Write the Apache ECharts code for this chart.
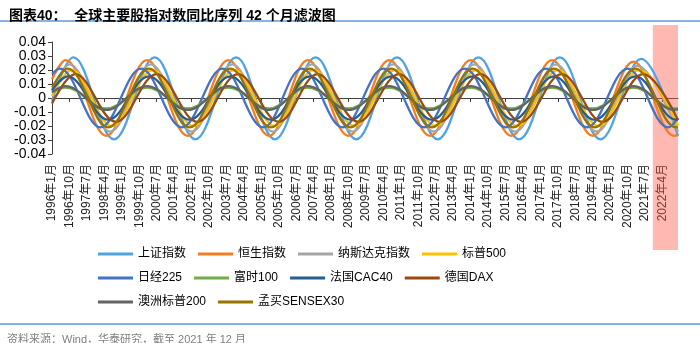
<!DOCTYPE html>
<html><head><meta charset="utf-8">
<script src="https://cdn.jsdelivr.net/npm/echarts@6/dist/echarts.min.js"></script>
<style>html,body{margin:0;padding:0;background:#fff}#c{width:700px;height:343px}</style>
</head><body><div id="c"></div>
<script>
// ---- data ----
const START_YEAR = 1996, START_MONTH = 1, MONTH_COUNT = 324;
const categories = [];
for (let i = 0; i < MONTH_COUNT; i++) {
  const m = START_MONTH - 1 + i;
  categories.push((START_YEAR + Math.floor(m / 12)) + '年' + (m % 12 + 1) + '月');
}
const yTicks = [-0.04, -0.03, -0.02, -0.01, 0, 0.01, 0.02, 0.03, 0.04];
const shadeStart = '2021年11月';
const shadeEnd = '2022年12月';
const seriesNames = ['上证指数','恒生指数','纳斯达克指数','标普500','日经225','富时100','法国CAC40','德国DAX','澳洲标普200','孟买SENSEX30'];
// key points [month index, value] (peaks, troughs, ends)
const shanghai = [[0,-0.002],[11,0.029],[32,-0.0295],[53,0.029],[74,-0.0295],[95,0.029],[115,-0.0295],[136,0.029],[157,-0.0295],[178,0.029],[199,-0.0295],[220,0.029],[241,-0.0295],[262,0.029],[283,-0.0295],[304,0.028],[323,-0.027]];
const hangseng = [[0,0.0134],[7,0.027],[28,-0.027],[49,0.027],[70,-0.027],[91,0.027],[112,-0.027],[132,0.027],[153,-0.027],[174,0.027],[195,-0.027],[216,0.027],[237,-0.027],[258,0.027],[279,-0.027],[300,0.026],[321,-0.027],[323,-0.0265]];
const nasdaq = [[0,0.0052],[9,0.024],[30,-0.024],[51,0.024],[72,-0.024],[93,0.024],[114,-0.024],[134,0.024],[155,-0.024],[176,0.024],[197,-0.024],[218,0.024],[239,-0.024],[260,0.024],[281,-0.024],[302,0.023],[323,-0.024]];
const sp500 = [[0,0.0014],[10,0.02],[31,-0.02],[52,0.02],[73,-0.02],[94,0.02],[115,-0.02],[135,0.02],[156,-0.02],[177,0.02],[198,-0.02],[219,0.02],[240,-0.02],[261,0.02],[282,-0.02],[303,0.02],[323,-0.0198]];
const nikkei = [[0,0.0173],[4,0.021],[25,-0.021],[46,0.021],[67,-0.021],[88,0.021],[109,-0.021],[129,0.021],[150,-0.021],[171,0.021],[192,-0.021],[213,0.021],[234,-0.021],[255,0.021],[276,-0.021],[297,0.021],[318,-0.021],[323,-0.0142]];
const ftse = [[0,0.0037],[7,0.0075],[28,-0.0075],[49,0.0075],[70,-0.0075],[91,0.0075],[112,-0.0075],[132,0.0075],[153,-0.0075],[174,0.0075],[195,-0.0075],[216,0.0075],[237,-0.0075],[258,0.0075],[279,-0.0075],[300,0.0075],[321,-0.0075],[323,-0.0072]];
const cac40 = [[0,0.0056],[8,0.0155],[29,-0.0155],[50,0.0155],[71,-0.0155],[92,0.0155],[113,-0.0155],[133,0.0155],[154,-0.0155],[175,0.0155],[196,-0.0155],[217,0.0155],[238,-0.0155],[259,0.0155],[280,-0.0155],[301,0.0155],[322,-0.0155],[323,-0.0154]];
const dax = [[0,-0.0039],[12,0.017],[33,-0.017],[54,0.017],[75,-0.017],[96,0.017],[117,-0.017],[137,0.017],[158,-0.017],[179,0.017],[200,-0.017],[221,0.017],[242,-0.017],[263,0.017],[284,-0.017],[305,0.017],[323,-0.0158]];
const asx200 = [[0,0.0042],[7,0.0085],[28,-0.0085],[49,0.0085],[70,-0.0085],[91,0.0085],[112,-0.0085],[132,0.0085],[153,-0.0085],[174,0.0085],[195,-0.0085],[216,0.0085],[237,-0.0085],[258,0.0085],[279,-0.0085],[300,0.0085],[321,-0.0085],[323,-0.0082]];
const sensex = [[0,0.0075],[8,0.021],[29,-0.021],[50,0.021],[71,-0.021],[92,0.021],[113,-0.021],[133,0.021],[154,-0.021],[175,0.021],[196,-0.021],[217,0.021],[238,-0.021],[259,0.021],[280,-0.021],[301,0.021],[322,-0.021],[323,-0.0209]];
const seriesData = [shanghai, hangseng, nasdaq, sp500, nikkei, ftse, cac40, dax, asx200, sensex];
const colors = ['#4FA3E3','#F47D22','#A5A5A5','#FFC000','#4472C4','#70AD47','#255E91','#9E480E','#636363','#997300'];

// ---- chart ----
const FONT = '"Liberation Sans", Arial, "Noto Sans CJK SC", sans-serif';
const chart = echarts.init(document.getElementById('c'), null, {renderer: 'canvas'});
const lineSeries = seriesNames.map((n, i) => ({
  name: n, type: 'line', xAxisIndex: 0, yAxisIndex: 0,
  data: seriesData[i], showSymbol: false, symbol: 'none', smooth: 0.37,
  lineStyle: {width: 2.3, color: colors[i]}, itemStyle: {color: colors[i]},
  z: 2, silent: true
}));
lineSeries.push({
  name: 'shade', type: 'line', xAxisIndex: 2, yAxisIndex: 1, data: [], z: 5, silent: true,
  markArea: {silent: true, itemStyle: {color: 'rgba(255,88,72,0.42)'},
    data: [[{xAxis: shadeStart}, {xAxis: shadeEnd}]]}
});
const legendBase = {
  left: 93, itemWidth: 35, itemHeight: 3, itemGap: 12, itemTextGap: 4, icon: 'rect',
  textStyle: {fontSize: 12, color: '#000', fontFamily: FONT, width: 80}
};
chart.setOption({
  animation: false,
  backgroundColor: '#fff',
  title: [
    {text: '图表40：  全球主要股指对数同比序列 42 个月滤波图', left: 4, top: 4,
     textStyle: {fontSize: 14, fontWeight: 'bold', color: '#000', fontFamily: FONT}},
    {text: '资料来源：Wind，华泰研究，截至 2021 年 12 月', left: 2, top: 329,
     textStyle: {fontSize: 11, fontWeight: 'normal', color: '#808080', fontFamily: FONT}}
  ],
  graphic: [
    {type: 'line', shape: {x1: 0, y1: 21, x2: 700, y2: 21}, style: {stroke: '#5B9BD5', lineWidth: 1.5}},
    {type: 'line', shape: {x1: 0, y1: 324, x2: 700, y2: 324}, style: {stroke: '#5B9BD5', lineWidth: 1.5}}
  ],
  legend: [
    Object.assign({}, legendBase, {top: 243, data: seriesNames.slice(0, 4)}),
    Object.assign({}, legendBase, {top: 267, data: seriesNames.slice(4, 8)}),
    Object.assign({}, legendBase, {top: 291, data: seriesNames.slice(8, 10)})
  ],
  grid: [
    {left: 52, right: 22, top: 42, bottom: 189},
    {left: 52, right: 22, top: 25, bottom: 93}
  ],
  xAxis: [
    {type: 'category', gridIndex: 0, data: categories, boundaryGap: false,
     axisLine: {onZero: true, lineStyle: {color: '#404040', width: 1}},
     axisTick: {show: true, interval: 8, length: 4, lineStyle: {color: '#404040'}},
     axisLabel: {show: false}, splitLine: {show: false}},
    {type: 'category', gridIndex: 0, position: 'bottom', offset: 0, data: categories, boundaryGap: false,
     axisLine: {show: false, onZero: false}, axisTick: {show: false},
     axisLabel: {show: true, interval: 8, rotate: 90, margin: 10, fontSize: 12, color: '#222', fontFamily: FONT},
     splitLine: {show: false}},
    {type: 'category', gridIndex: 1, data: categories, boundaryGap: false, show: false}
  ],
  yAxis: [
    {type: 'value', gridIndex: 0, min: yTicks[0], max: yTicks[yTicks.length - 1], interval: 0.01,
     axisLine: {show: true, lineStyle: {color: '#404040'}},
     axisTick: {show: true, length: 4, lineStyle: {color: '#404040'}},
     splitLine: {show: false},
     axisLabel: {fontSize: 14, color: '#000', margin: 6, fontFamily: FONT,
       formatter: v => Math.abs(v) < 1e-9 ? '0' : v.toFixed(2)}},
    {type: 'value', gridIndex: 1, min: 0, max: 1, show: false}
  ],
  series: lineSeries
});
</script></body></html>
